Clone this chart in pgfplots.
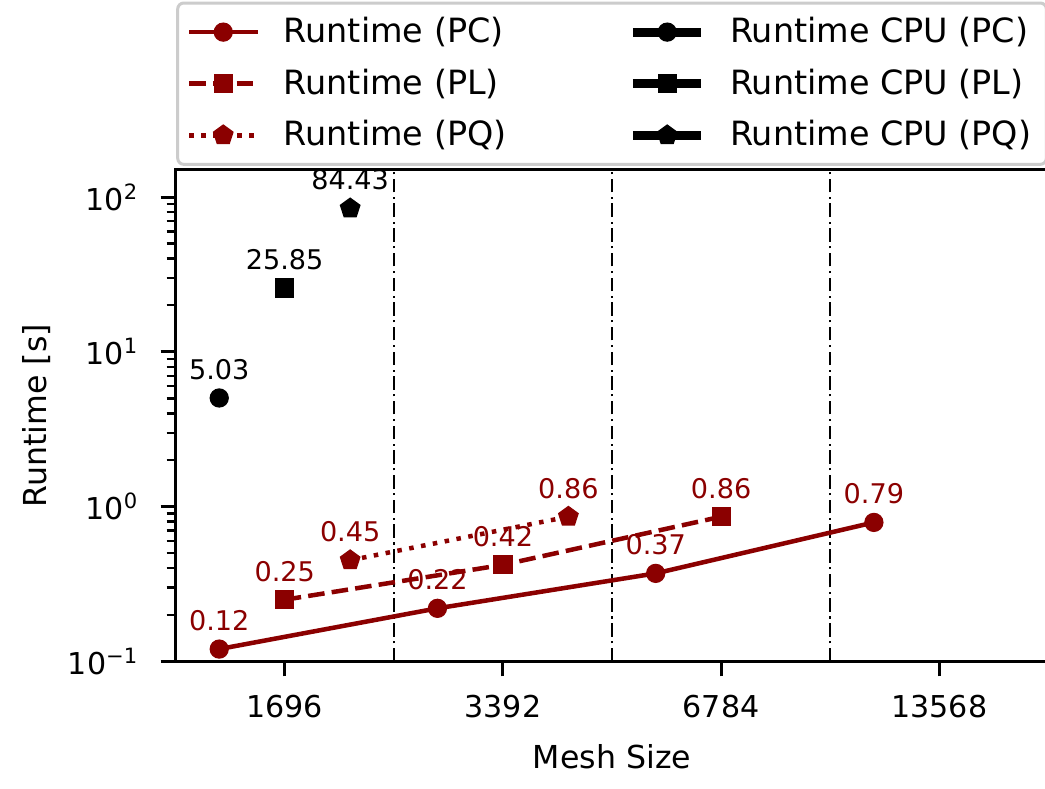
\documentclass[border=0pt]{standalone}
\usepackage{fontspec}
\setmainfont{DejaVu Sans}
\usepackage{pgfplots}
\pgfplotsset{compat=1.18}
\usetikzlibrary{plotmarks}

\definecolor{dred}{HTML}{8B0000}

\begin{document}
\begin{tikzpicture}
\begin{axis}[
  scale only axis,
  width=290pt, height=163.3pt,
  ymode=log,
  xmin=-0.5, xmax=3.5,
  ymin=0.1, ymax=150,
  axis line style={line width=1pt},
  xtick={0,1,2,3},
  xticklabels={1696,3392,6784,13568},
  ytick={0.1,1,10,100},
  yticklabels={10\textsuperscript{−1},10\textsuperscript{0},10\textsuperscript{1},10\textsuperscript{2}},
  tick align=outside,
  tick pos=left,
  major tick length=5pt,
  minor tick length=3pt,
  every tick/.style={black, line width=1pt},
  minor tick style={line width=0.8pt},
  extra x ticks={0.5,1.5,2.5},
  extra x tick labels={},
  extra x tick style={grid=major, major tick length=0pt,
    major grid style={black, line width=0.6pt,
      dash pattern=on 4.5pt off 1.5pt on 0.7pt off 1.5pt}},
  tick label style={font=\fontsize{10}{12}\selectfont},
  xticklabel style={yshift=-2.7pt},
  yticklabel style={xshift=-3.7pt},
  /pgf/number format/assume math mode=true,
  xlabel={Mesh Size},
  ylabel={Runtime [s]},
  xlabel style={yshift=3pt},
  ylabel style={yshift=-1pt},
  label style={font=\fontsize{10.5}{12}\selectfont},
  legend columns=2,
  legend cell align=left,
  legend style={
    at={(0.5,1)}, anchor=south, yshift=1.3pt,
    draw=black!20, line width=1pt, rounded corners=2pt,
    font=\fontsize{11.1}{12}\selectfont,
    inner xsep=3pt, inner ysep=2.7pt,
    row sep=3.2pt,
    /tikz/every odd column/.append style={column sep=6pt},
    /tikz/every even column/.append style={column sep=38.5pt},
  },
  legend image code/.code={
    \draw[mark repeat=2, mark phase=2, #1]
      plot coordinates {(0cm,0cm) (0.4cm,0cm) (0.8cm,0cm)};
  },
  nodes near coords,
  point meta=explicit symbolic,
  every node near coord/.append style={
    font=\fontsize{9}{10}\selectfont, anchor=south, yshift=2.5pt},
]

% row 1: PC
\addplot[dred, line width=1.5pt, mark=*, mark size=3pt,
  mark options={solid, line width=0.4pt}, every node near coord/.append style={text=dred}]
  coordinates {(-0.3,0.12)[0.12] (0.7,0.22)[0.22] (1.7,0.37)[0.37] (2.7,0.79)[0.79]};
\addplot[black, line width=3pt, mark=*, mark size=3pt,
  mark options={solid, line width=0.4pt}]
  coordinates {(-0.3,5.03)[5.03]};

% row 2: PL
\addplot[dred, line width=1.5pt, dash pattern=on 5.5pt off 2.4pt, mark=square*, mark size=3pt,
  mark options={solid, line width=0.4pt}, every node near coord/.append style={text=dred}]
  coordinates {(0,0.25)[0.25] (1,0.42)[0.42] (2,0.86)[0.86]};
\addplot[black, line width=3pt, mark=square*, mark size=3pt,
  mark options={solid, line width=0.4pt}]
  coordinates {(0,25.85)[25.85]};

% row 3: PQ
\addplot[dred, line width=1.5pt, dash pattern=on 1.5pt off 2.5pt, mark=pentagon*, mark size=3.4pt,
  mark options={solid, line width=0.4pt}, every node near coord/.append style={text=dred}]
  coordinates {(0.3,0.45)[0.45] (1.3,0.86)[0.86]};
\addplot[black, line width=3pt, mark=pentagon*, mark size=3.4pt,
  mark options={solid, line width=0.4pt}]
  coordinates {(0.3,84.43)[84.43]};

\legend{Runtime (PC), Runtime CPU (PC), Runtime (PL), Runtime CPU (PL), Runtime (PQ), Runtime CPU (PQ)}

\coordinate (cropR) at (rel axis cs:0.996,0);
\end{axis}
\path (current bounding box.south west) coordinate (bbSW)
      (current bounding box.north east) coordinate (bbNE);
\pgfresetboundingbox
\useasboundingbox ([xshift=-4pt,yshift=-3pt]bbSW) rectangle ([yshift=0.5pt]cropR |- bbNE);
\end{tikzpicture}
\end{document}
